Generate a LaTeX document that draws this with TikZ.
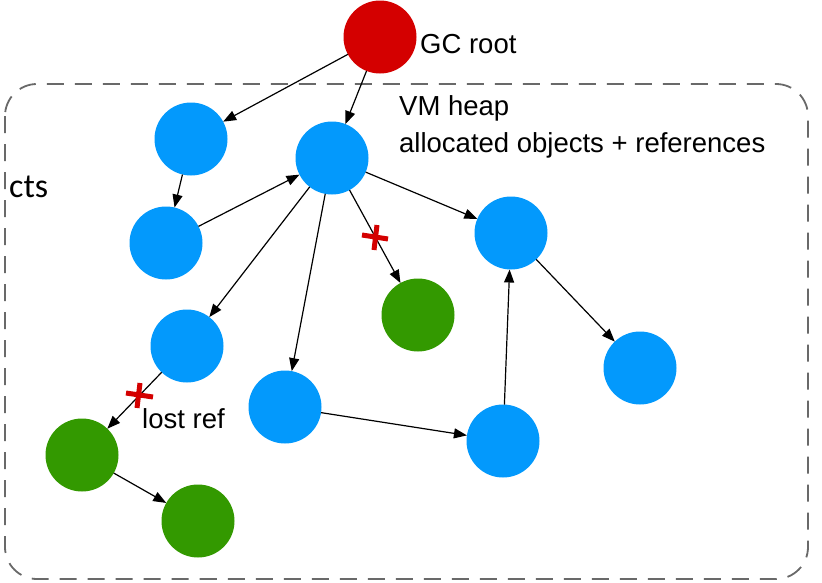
\documentclass[tikz,border=0pt]{standalone}
\usepackage{fontspec}
\setmainfont{Liberation Sans}
\newfontfamily\slidefont{Carlito}
\usetikzlibrary{arrows.meta}

\definecolor{objblue}{RGB}{3,153,252}
\definecolor{rootred}{RGB}{212,0,0}
\definecolor{lostgreen}{RGB}{51,153,0}
\definecolor{heapgray}{RGB}{105,105,105}

\begin{document}
\begin{tikzpicture}[x=1pt,y=-1pt,
    obj/.style={circle,fill=objblue,minimum size=73pt,inner sep=0pt,outer sep=0pt},
    rootobj/.style={obj,fill=rootred},
    lostobj/.style={obj,fill=lostgreen},
    ref/.style={-{Triangle[length=13pt,width=10pt]},line width=1.2pt},
    cut/.style={rootred,line width=5pt},
    lbl/.style={font=\fontsize{27.5}{32}\selectfont,inner sep=0pt,anchor=base west}]
    \useasboundingbox (0,0) rectangle (822,582);
    % heap border
    \draw[heapgray,line width=1.8pt,dash pattern=on 17pt off 11pt,rounded corners=32pt] (5,84) rectangle (808,579);
    \node[inner sep=0pt,anchor=base west,font=\slidefont\fontsize{34}{40}\selectfont] (cts) at (9,197) {cts};
    % objects
    \node[rootobj] (root) at (380,37) {};
    \node[obj] (a) at (191,139) {};
    \node[obj] (b) at (332,158) {};
    \node[obj] (c) at (166,243) {};
    \node[obj] (d) at (511,233) {};
    \node[lostobj] (e) at (418,315) {};
    \node[obj] (f) at (187,346) {};
    \node[obj] (g) at (285,407) {};
    \node[lostobj] (h) at (82,455) {};
    \node[lostobj] (i) at (198,521) {};
    \node[obj] (j) at (503,441) {};
    \node[obj] (k) at (640,368) {};
    % labels
    \node[lbl] (rootlbl) at (420,53) {GC root};
    \node[lbl] (heaplbl) at (399,115) {VM heap};
    \node[lbl] (heapsub) at (399,152) {allocated objects + references};
    \node[lbl] (lostlbl) at (142,428) {lost ref};
    % references
    \draw[ref] (root) -- (a);
    \draw[ref] (root) -- (b);
    \draw[ref] (a) -- (c);
    \draw[ref] (c) -- (b);
    \draw[ref] (b) -- (f);
    \draw[ref] (b) -- (g);
    \draw[ref] (b) -- (e);
    \draw[ref] (b) -- (d);
    \draw[ref] (d) -- (k);
    \draw[ref] (g) -- (j);
    \draw[ref] (j) -- (d);
    \draw[ref] (f) -- (h);
    \draw[ref] (h) -- (i);
    % cut references
    \draw[cut] (362,235) -- (388,239) (377,225) -- (374,250);
    \draw[cut] (126,393) -- (153,397) (140,383) -- (137,408);
\end{tikzpicture}
\end{document}
